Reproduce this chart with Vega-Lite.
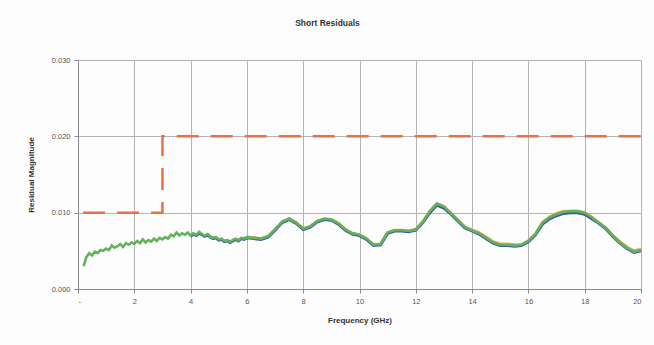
{
  "$schema": "https://vega.github.io/schema/vega-lite/v6.json",
  "width": 563,
  "height": 229,
  "autosize": "none",
  "padding": {"left": 78, "top": 60, "right": 13, "bottom": 56},
  "background": "#fdfdfd",
  "title": {
    "text": "Short Residuals",
    "font": "Liberation Sans",
    "fontSize": 8.5,
    "fontWeight": "bold",
    "color": "#333333",
    "offset": 29,
    "dx": -32
  },
  "config": {
    "view": {"stroke": null},
    "axis": {
      "labelFont": "Liberation Sans",
      "titleFont": "Liberation Sans",
      "labelFontSize": 7.5,
      "titleFontSize": 8,
      "labelColor": "#555555",
      "titleColor": "#333333",
      "gridColor": "#b4b4b4",
      "gridWidth": 1,
      "domainColor": "#8a8a8a",
      "tickColor": "#8a8a8a"
    }
  },
  "datasets": {
    "residuals": [
      {"f": 0.2, "g": 0.0030},
      {"f": 0.3, "g": 0.0042},
      {"f": 0.4, "g": 0.0047},
      {"f": 0.5, "g": 0.0044},
      {"f": 0.6, "g": 0.0049},
      {"f": 0.7, "g": 0.0047},
      {"f": 0.8, "g": 0.0051},
      {"f": 0.9, "g": 0.0050},
      {"f": 1.0, "g": 0.0053},
      {"f": 1.1, "g": 0.0051},
      {"f": 1.2, "g": 0.0057},
      {"f": 1.3, "g": 0.0054},
      {"f": 1.4, "g": 0.0056},
      {"f": 1.5, "g": 0.0059},
      {"f": 1.6, "g": 0.0055},
      {"f": 1.7, "g": 0.0060},
      {"f": 1.8, "g": 0.0058},
      {"f": 1.9, "g": 0.0061},
      {"f": 2.0, "g": 0.0059},
      {"f": 2.1, "g": 0.0063},
      {"f": 2.2, "g": 0.0060},
      {"f": 2.3, "g": 0.0065},
      {"f": 2.4, "g": 0.0061},
      {"f": 2.5, "g": 0.0064},
      {"f": 2.6, "g": 0.0062},
      {"f": 2.7, "g": 0.0066},
      {"f": 2.8, "g": 0.0063},
      {"f": 2.9, "g": 0.0067},
      {"f": 3.0, "g": 0.0065},
      {"f": 3.1, "g": 0.0068},
      {"f": 3.2, "g": 0.0066},
      {"f": 3.3, "g": 0.0071},
      {"f": 3.4, "g": 0.0069},
      {"f": 3.5, "g": 0.0074},
      {"f": 3.6, "g": 0.0070},
      {"f": 3.7, "g": 0.0073},
      {"f": 3.8, "g": 0.0071},
      {"f": 3.9, "g": 0.0074},
      {"f": 4.0, "g": 0.0070, "b": 0.0069},
      {"f": 4.1, "g": 0.0073, "b": 0.0072},
      {"f": 4.2, "g": 0.0071, "b": 0.0070},
      {"f": 4.3, "g": 0.0075, "b": 0.0073},
      {"f": 4.4, "g": 0.0072, "b": 0.0071},
      {"f": 4.5, "g": 0.0070, "b": 0.0069},
      {"f": 4.6, "g": 0.0072, "b": 0.0071},
      {"f": 4.7, "g": 0.0069, "b": 0.0068},
      {"f": 4.8, "g": 0.0067, "b": 0.0066},
      {"f": 4.9, "g": 0.0068, "b": 0.0067},
      {"f": 5.0, "g": 0.0065, "b": 0.0064},
      {"f": 5.1, "g": 0.0066, "b": 0.0065},
      {"f": 5.2, "g": 0.0063, "b": 0.0062},
      {"f": 5.3, "g": 0.0064, "b": 0.0063},
      {"f": 5.4, "g": 0.0062, "b": 0.0061},
      {"f": 5.5, "g": 0.0064, "b": 0.0063},
      {"f": 5.6, "g": 0.0066, "b": 0.0065},
      {"f": 5.7, "g": 0.0064, "b": 0.0063},
      {"f": 5.8, "g": 0.0067, "b": 0.0066},
      {"f": 5.9, "g": 0.0066, "b": 0.0065},
      {"f": 6.0, "g": 0.0068, "b": 0.0067, "o": 0.0068},
      {"f": 6.25, "g": 0.0067, "b": 0.0066, "o": 0.0067},
      {"f": 6.5, "g": 0.0066, "b": 0.0065, "o": 0.0066},
      {"f": 6.75, "g": 0.0069, "b": 0.0068, "o": 0.0069},
      {"f": 7.0, "g": 0.0078, "b": 0.0077, "o": 0.0078},
      {"f": 7.25, "g": 0.0088, "b": 0.0087, "o": 0.0088},
      {"f": 7.5, "g": 0.0092, "b": 0.0091, "o": 0.0092},
      {"f": 7.75, "g": 0.0087, "b": 0.0086, "o": 0.0087},
      {"f": 8.0, "g": 0.0079, "b": 0.0078, "o": 0.0079},
      {"f": 8.25, "g": 0.0082, "b": 0.0081, "o": 0.0082},
      {"f": 8.5, "g": 0.0089, "b": 0.0088, "o": 0.0089},
      {"f": 8.75, "g": 0.0092, "b": 0.0091, "o": 0.0092},
      {"f": 9.0, "g": 0.0091, "b": 0.0090, "o": 0.0091},
      {"f": 9.25, "g": 0.0086, "b": 0.0085, "o": 0.0086},
      {"f": 9.5, "g": 0.0078, "b": 0.0077, "o": 0.0078},
      {"f": 9.75, "g": 0.0073, "b": 0.0072, "o": 0.0073},
      {"f": 10.0, "g": 0.0071, "b": 0.0070, "o": 0.0071},
      {"f": 10.25, "g": 0.0066, "b": 0.0065, "o": 0.0066},
      {"f": 10.5, "g": 0.0058, "b": 0.0057, "o": 0.0058},
      {"f": 10.75, "g": 0.0059, "b": 0.0058, "o": 0.0059},
      {"f": 11.0, "g": 0.0074, "b": 0.0073, "o": 0.0074},
      {"f": 11.25, "g": 0.0077, "b": 0.0076, "o": 0.0077},
      {"f": 11.5, "g": 0.0077, "b": 0.0076, "o": 0.0077},
      {"f": 11.75, "g": 0.0076, "b": 0.0075, "o": 0.0076},
      {"f": 12.0, "g": 0.0078, "b": 0.0077, "o": 0.0078},
      {"f": 12.25, "g": 0.0088, "b": 0.0087, "o": 0.0088},
      {"f": 12.5, "g": 0.0102, "b": 0.0100, "o": 0.0102},
      {"f": 12.75, "g": 0.0112, "b": 0.0110, "o": 0.0112},
      {"f": 13.0, "g": 0.0108, "b": 0.0106, "o": 0.0108},
      {"f": 13.25, "g": 0.0099, "b": 0.0098, "o": 0.0099},
      {"f": 13.5, "g": 0.0090, "b": 0.0089, "o": 0.0090},
      {"f": 13.75, "g": 0.0081, "b": 0.0080, "o": 0.0081},
      {"f": 14.0, "g": 0.0077, "b": 0.0076, "o": 0.0077},
      {"f": 14.25, "g": 0.0073, "b": 0.0072, "o": 0.0074},
      {"f": 14.5, "g": 0.0067, "b": 0.0066, "o": 0.0068},
      {"f": 14.75, "g": 0.0061, "b": 0.0060, "o": 0.0062},
      {"f": 15.0, "g": 0.0058, "b": 0.0057, "o": 0.0059},
      {"f": 15.25, "g": 0.0058, "b": 0.0057, "o": 0.0059},
      {"f": 15.5, "g": 0.0057, "b": 0.0056, "o": 0.0058},
      {"f": 15.75, "g": 0.0058, "b": 0.0057, "o": 0.0058},
      {"f": 16.0, "g": 0.0063, "b": 0.0062, "o": 0.0063},
      {"f": 16.25, "g": 0.0072, "b": 0.0071, "o": 0.0072},
      {"f": 16.5, "g": 0.0087, "b": 0.0085, "o": 0.0087},
      {"f": 16.75, "g": 0.0094, "b": 0.0092, "o": 0.0094},
      {"f": 17.0, "g": 0.0098, "b": 0.0096, "o": 0.0099},
      {"f": 17.25, "g": 0.0101, "b": 0.0099, "o": 0.0102},
      {"f": 17.5, "g": 0.0102, "b": 0.0100, "o": 0.0102},
      {"f": 17.75, "g": 0.0102, "b": 0.0100, "o": 0.0102},
      {"f": 18.0, "g": 0.0100, "b": 0.0098, "o": 0.0100},
      {"f": 18.25, "g": 0.0094, "b": 0.0092, "o": 0.0094},
      {"f": 18.5, "g": 0.0087, "b": 0.0086, "o": 0.0087},
      {"f": 18.75, "g": 0.0080, "b": 0.0079, "o": 0.0080},
      {"f": 19.0, "g": 0.0070, "b": 0.0069, "o": 0.0070},
      {"f": 19.25, "g": 0.0061, "b": 0.0060, "o": 0.0062},
      {"f": 19.5, "g": 0.0054, "b": 0.0053, "o": 0.0055},
      {"f": 19.75, "g": 0.0049, "b": 0.0048, "o": 0.0050},
      {"f": 20.0, "g": 0.0051, "b": 0.0050, "o": 0.0052}
    ],
    "limit": [
      {"f": 0.18, "limit": 0.010},
      {"f": 3.0, "limit": 0.010},
      {"f": 3.0, "limit": 0.020},
      {"f": 20.0, "limit": 0.020}
    ]
  },
  "encoding": {
    "x": {
      "field": "f",
      "type": "quantitative",
      "scale": {"domain": [0, 20], "nice": false, "zero": false},
      "axis": {
        "title": "Frequency (GHz)",
        "values": [0, 2, 4, 6, 8, 10, 12, 14, 16, 18, 20],
        "labelExpr": "datum.value == 0 ? '-' : datum.label",
        "tickSize": 4,
        "labelPadding": 4,
        "titlePadding": 12
      }
    }
  },
  "layer": [
    {
      "data": {"name": "residuals"},
      "mark": {"type": "line", "color": "#f0a86a", "strokeWidth": 3},
      "encoding": {
        "y": {
          "field": "o",
          "type": "quantitative",
          "scale": {"domain": [0, 0.03], "nice": false},
          "axis": {
            "title": "Residual Magnitude",
            "values": [0, 0.01, 0.02, 0.03],
            "format": ".3f",
            "tickSize": 4,
            "labelPadding": 4,
            "titlePadding": 16
          }
        }
      }
    },
    {
      "data": {"name": "residuals"},
      "mark": {"type": "line", "color": "#3e5a9e", "strokeWidth": 3},
      "encoding": {"y": {"field": "b", "type": "quantitative"}}
    },
    {
      "data": {"name": "residuals"},
      "mark": {"type": "line", "color": "#62b35c", "strokeWidth": 2.6},
      "encoding": {"y": {"field": "g", "type": "quantitative"}}
    },
    {
      "data": {"name": "limit"},
      "mark": {"type": "line", "color": "#ef6f45", "strokeWidth": 2.5, "strokeDash": [22, 12]},
      "encoding": {"y": {"field": "limit", "type": "quantitative"}}
    }
  ]
}
